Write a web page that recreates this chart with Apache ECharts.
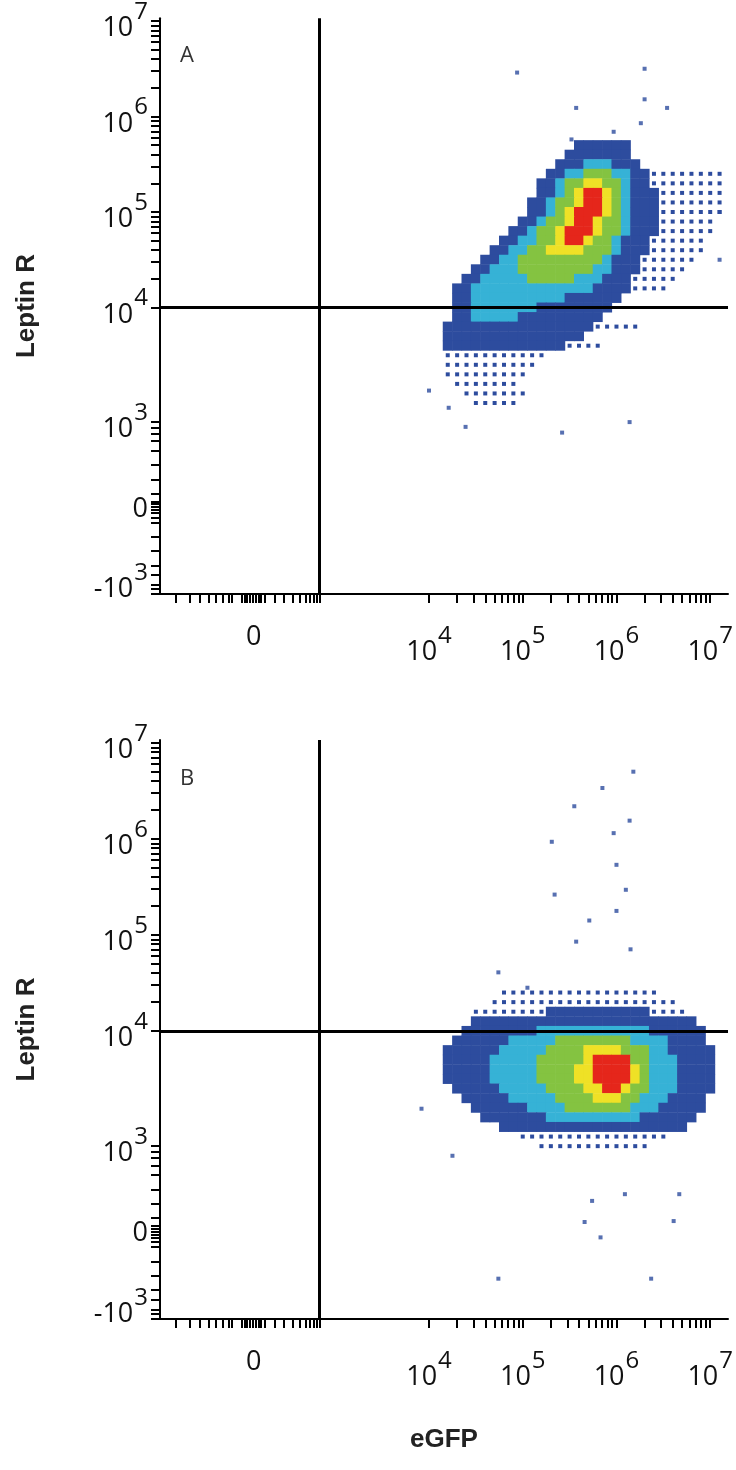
<!DOCTYPE html>
<html><head><meta charset="utf-8">
<script src="https://cdn.jsdelivr.net/npm/echarts@6/dist/echarts.min.js"></script>
<style>html,body{margin:0;padding:0;background:#fff}#c{width:736px;height:1470px}</style>
</head><body><div id="c"></div>
<script>
// density rows: [y, [x0, x1, level], ...]  (display units: decades, biexponential)
const rowsA = [
 [5.7,[5.6,6.1,2]],
 [5.6,[5.5,6.1,2]],
 [5.5,[5.4,6.2,2],[5.7,5.9,3]],
 [5.4,[6.4,7.1,1],[5.3,6.3,2],[5.5,6.1,3],[5.7,5.9,4]],
 [5.3,[6.4,7.1,1],[5.2,6.3,2],[5.4,6.1,3],[5.5,6.0,4],[5.7,5.8,5]],
 [5.2,[6.4,7.1,1],[5.2,6.4,2],[5.4,6.1,3],[5.5,6.0,4],[5.6,5.9,5],[5.7,5.8,6]],
 [5.1,[6.4,7.1,1],[5.1,6.4,2],[5.3,6.1,3],[5.4,6.0,4],[5.6,5.9,5],[5.7,5.8,6]],
 [5.0,[6.4,7.1,1],[5.1,6.4,2],[5.3,6.1,3],[5.4,6.0,4],[5.5,5.9,5],[5.6,5.8,6]],
 [4.9,[6.4,7.0,1],[5.0,6.4,2],[5.2,6.1,3],[5.3,6.0,4],[5.5,5.8,5],[5.6,5.7,6]],
 [4.8,[6.4,7.0,1],[4.9,6.4,2],[5.1,6.1,3],[5.2,6.0,4],[5.4,5.8,5],[5.5,5.7,6]],
 [4.7,[6.3,6.9,1],[4.8,6.3,2],[5.0,6.0,3],[5.2,5.9,4],[5.4,5.7,5],[5.5,5.6,6]],
 [4.6,[6.3,6.9,1],[4.7,6.3,2],[4.9,6.0,3],[5.1,5.9,4],[5.3,5.6,5]],
 [4.5,[6.2,6.8,1],[4.6,6.2,2],[4.8,5.9,3],[5.0,5.8,4]],
 [4.4,[6.2,6.7,1],[4.5,6.2,2],[4.7,5.9,3],[5.0,5.7,4]],
 [4.3,[6.1,6.6,1],[4.4,6.1,2],[4.6,5.8,3],[5.1,5.5,4]],
 [4.2,[6.1,6.5,1],[4.3,6.1,2],[4.5,5.7,3]],
 [4.1,[4.3,6.0,2],[4.5,5.4,3]],
 [4.0,[4.3,5.9,2],[4.5,5.1,3]],
 [3.9,[4.3,5.8,2],[4.5,4.9,3]],
 [3.8,[5.7,6.2,1],[4.2,5.7,2]],
 [3.7,[4.2,5.6,2]],
 [3.6,[5.4,5.8,1],[4.2,5.4,2]],
 [3.5,[4.2,5.2,1]],
 [3.4,[4.2,5.1,1]],
 [3.3,[4.2,5.0,1]],
 [3.2,[4.3,4.9,1]],
 [3.1,[4.4,5.0,1]],
 [3.0,[4.5,4.9,1]]
];
const outA = [[4.94,6.46],[6.3,6.5],[6.3,6.18],[5.57,6.09],[6.54,6.09],[6.26,5.93],[5.97,5.84],[5.52,5.76],
 [5.42,2.69],[4.39,2.75],[6.14,2.8],[4.0,3.13],[4.21,2.95],[7.1,5.0],[7.1,4.5]];
const rowsB = [
 [4.4,[4.8,6.4,1]],
 [4.3,[4.7,6.6,1]],
 [4.2,[4.5,6.7,1],[5.3,6.3,2]],
 [4.1,[4.5,6.8,2]],
 [4.0,[4.4,6.9,2],[5.2,6.3,3]],
 [3.9,[4.3,6.9,2],[4.9,6.5,3],[5.4,6.1,4]],
 [3.8,[4.2,7.0,2],[4.8,6.5,3],[5.3,6.3,4],[5.7,6.0,5]],
 [3.7,[4.2,7.0,2],[4.7,6.6,3],[5.2,6.3,4],[5.7,6.1,5],[5.8,6.1,6]],
 [3.6,[4.2,7.0,2],[4.7,6.6,3],[5.2,6.3,4],[5.6,6.2,5],[5.8,6.1,6]],
 [3.5,[4.2,7.0,2],[4.7,6.6,3],[5.2,6.3,4],[5.6,6.2,5],[5.8,6.1,6]],
 [3.4,[4.3,7.0,2],[4.8,6.6,3],[5.3,6.3,4],[5.7,6.1,5],[5.9,6.0,6]],
 [3.3,[4.4,6.9,2],[4.9,6.5,3],[5.4,6.2,4],[5.8,6.0,5]],
 [3.2,[4.5,6.9,2],[5.1,6.4,3],[5.5,6.1,4]],
 [3.1,[4.6,6.8,2],[5.3,6.2,3]],
 [3.0,[4.8,6.7,2]],
 [2.9,[5.0,6.5,1]],
 [2.8,[5.2,6.3,1]]
];
const outB = [[6.18,6.70],[5.85,6.53],[5.55,6.34],[6.14,6.19],[5.97,6.06],[5.31,5.97],[6.0,5.73],[5.34,5.42],
 [6.1,5.47],[6.0,5.25],[5.71,5.15],[5.57,4.93],[6.15,4.85],[4.74,4.61],[5.05,4.45],[4.25,2.70],[6.09,2.30],
 [6.67,2.30],[5.74,2.23],[6.61,2.02],[5.83,1.85],[5.66,2.01],[6.37,1.42],[4.74,1.42],[3.92,3.19]];
const yTicks = [7,6,5,4,2.8,1.89,1.125];
const yTickLabels = ['{n|10}{s|7}','{n|10}{s|6}','{n|10}{s|5}','{n|10}{s|4}','{n|10}{s|3}','{n|0}','{n|-10}{s|3}'];
const xTicks = [2.13,4,5,6,7];
const xTickLabels = ['{n|0}','{n|10}{s|4}','{n|10}{s|5}','{n|10}{s|6}','{n|10}{s|7}'];
const xMinorLeft = [1.3,1.45,1.55,1.65,1.73,1.8,1.86,1.9,2.0,2.03,2.06,2.09,2.12,2.15,2.18,2.21,2.25,2.35,2.45,2.55,2.62,2.68,2.73,2.77,2.8,2.83];
const yMinorLow = [1.0,1.05,1.1,1.2,1.3,1.45,1.6,1.75,1.8,1.85,1.88,1.91,1.94,1.97,2.05,2.2,2.35,2.5,2.6,2.68,2.74,2.8];
const colors = ['', '#2d4c9e', '#2d4c9e', '#36b2d6', '#84c341', '#efe126', '#e5261b'];

function expand(rows){
  const cells = {};
  rows.forEach(r => {
    const y = r[0];
    r.slice(1).sort((a,b)=>a[2]-b[2]).forEach(s => {
      for (let i = Math.round(s[0]*10); i <= Math.round(s[1]*10); i++) cells[i+'_'+y] = [i/10, y, s[2]];
    });
  });
  return Object.values(cells);
}
const decTicks = [];
[4,5,6].forEach(d => { for (let k=1;k<=9;k++) decTicks.push(d+Math.log10(k)); });
decTicks.push(7);
const xAll = xMinorLeft.concat(decTicks);
const yAll = yMinorLow.concat(decTicks.filter(v=>v>2.8));

const rich = {
  n:{fontSize:27, fontFamily:'Open Sans', color:'#111', verticalAlign:'bottom'},
  s:{fontSize:24, fontFamily:'Open Sans', color:'#111', verticalAlign:'top', padding:[0,0,18,1]}
};
function grid(top){ return {left:160, top:top, width:576, height:579}; }
function xAxis(i, named){ return {gridIndex:i, type:'value', min:1.13, max:7.19,
  axisLine:{show:true, onZero:false, lineStyle:{color:'#000', width:2}}, splitLine:{show:false},
  axisTick:{show:true, customValues:xAll, length:9, lineStyle:{color:'#000', width:2}},
  axisLabel:{customValues:xTicks, margin:30, rich:rich,
    formatter:v=>xTickLabels[xTicks.indexOf(v)] || ''},
  name: named ? 'eGFP' : '', nameLocation:'middle', nameGap:108,
  nameTextStyle:{fontSize:26, fontWeight:'bold', fontFamily:'Liberation Sans', color:'#222'}}; }
function yAxis(i){ return {gridIndex:i, type:'value', min:1.0, max:7.03,
  axisLine:{show:true, onZero:false, lineStyle:{color:'#000', width:2}}, splitLine:{show:false},
  axisTick:{show:true, customValues:yAll, length:9, lineStyle:{color:'#000', width:2}},
  axisLabel:{customValues:yTicks, margin:12, rich:rich,
    formatter:v=>yTickLabels[yTicks.indexOf(v)] || ''},
  name:'Leptin R', nameLocation:'middle', nameGap:120,
  nameTextStyle:{fontSize:26, fontWeight:'bold', fontFamily:'Liberation Sans', color:'#222'}}; }
function series(i, rows, outs){
  const cells = expand(rows);
  return [
   {type:'scatter', xAxisIndex:i, yAxisIndex:i, symbol:'rect', animation:false,
    symbolSize:d=>d[2]===1?[4,4]:[10,10], data:cells,
    itemStyle:{color:p=>colors[p.data[2]], opacity:1},
    markLine:{silent:true, symbol:'none', label:{show:false}, animation:false,
      lineStyle:{color:'#000', width:3, type:'solid'}, data:[{xAxis:2.83},{yAxis:4}]}},
   {type:'scatter', xAxisIndex:i, yAxisIndex:i, symbol:'rect', symbolSize:4, animation:false,
    data:outs, itemStyle:{color:'#2d4c9e'}}
  ];
}
const chart = echarts.init(document.getElementById('c'));
chart.setOption({
  backgroundColor:'#fff', animation:false,
  title:[{text:'A', left:175, top:40, textStyle:{fontSize:22, fontWeight:'normal', color:'#333', fontFamily:'Open Sans'}},
         {text:'B', left:175, top:763, textStyle:{fontSize:22, fontWeight:'normal', color:'#333', fontFamily:'Open Sans'}}],
  grid:[grid(15), grid(740)],
  xAxis:[xAxis(0,false), xAxis(1,true)],
  yAxis:[yAxis(0), yAxis(1)],
  series: series(0, rowsA, outA).concat(series(1, rowsB, outB))
});
</script></body></html>
